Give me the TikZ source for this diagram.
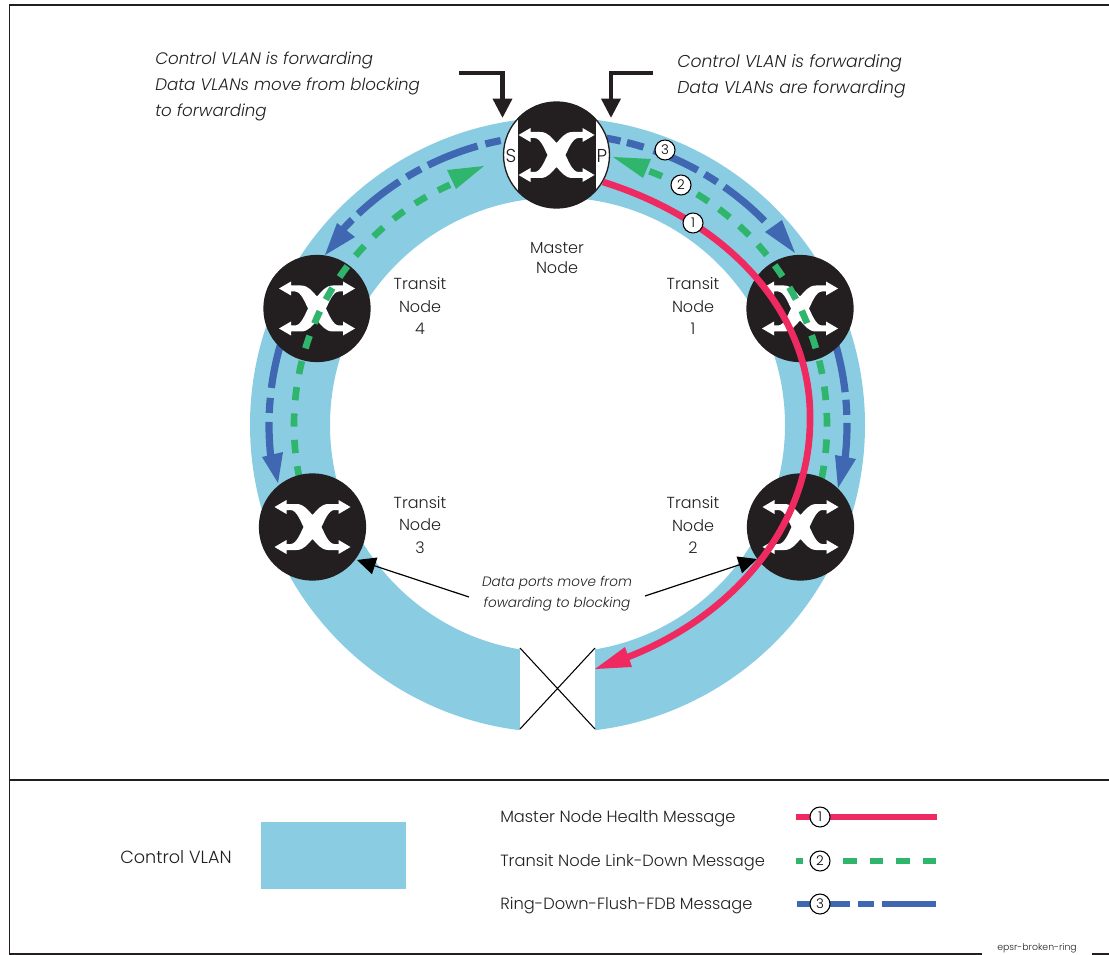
\documentclass[tikz,border=0pt]{standalone}
\usepackage{fontspec}
\setmainfont{Poppins Light}
\usetikzlibrary{arrows.meta}
\definecolor{ringblue}{HTML}{8ACDE3}
\definecolor{nodeblack}{HTML}{231F20}
\definecolor{msgred}{HTML}{EE2A60}
\definecolor{msggreen}{HTML}{2FB56C}
\definecolor{msgblue}{HTML}{3F67B2}
\tikzset{
  x=0.75pt,y=-0.75pt,
  switchnode/.style={circle,fill=nodeblack,minimum size=80.5pt,inner sep=0pt},
  numdot/.style={circle,draw=black,fill=white,line width=0.8pt,minimum size=15pt,inner sep=0pt,font=\fontsize{10}{10}\selectfont},
  lab/.style={font=\fontsize{12}{17}\selectfont,align=center,text=nodeblack},
  masterlab/.style={font=\fontsize{12}{15}\selectfont,align=center,text=nodeblack},
  notes/.style={font=\fontsize{12.9}{19.5}\selectfont\itshape,align=left,text=nodeblack,anchor=west,inner sep=0pt},
  smallnote/.style={font=\fontsize{10.2}{15.5}\selectfont\itshape,align=center,text=nodeblack},
  legendtext/.style={font=\fontsize{12.2}{16}\selectfont,text=nodeblack,anchor=west,inner sep=0pt},
  redline/.style={draw=msgred,line width=5pt},
  greenline/.style={draw=msggreen,line width=5pt},
  blueline/.style={draw=msgblue,line width=5.4pt},
  legendline/.style={line width=4.5pt},
  calloutline/.style={draw=nodeblack,line width=3.3pt,-{Triangle[length=14.5pt,width=14pt]}},
  thinarrow/.style={draw=black,line width=0.9pt,-{Triangle[length=14pt,width=13pt]}},
  frameline/.style={draw=nodeblack,line width=1pt},
  portlab/.style={font=\fontsize{14}{14}\selectfont,text=nodeblack,inner sep=0pt},
}
\newcommand{\icon}[1]{%
  \fill[white,shift={(#1)}] (0,-12) .. controls (4,-16) and (8,-23) .. (16,-23) -- (26,-23) -- (26,-27) -- (38,-20) -- (26,-13) -- (26,-17) -- (22,-17)
    .. controls (16,-17) and (12,-6) .. (9,0) .. controls (12,6) and (16,17) .. (22,17) -- (26,17) -- (26,13) -- (38,20) -- (26,27) -- (26,23) -- (16,23)
    .. controls (8,23) and (4,16) .. (0,12) .. controls (-4,16) and (-8,23) .. (-16,23) -- (-26,23) -- (-26,27) -- (-38,20) -- (-26,13) -- (-26,17) -- (-22,17)
    .. controls (-16,17) and (-12,6) .. (-9,0) .. controls (-12,-6) and (-16,-17) .. (-22,-17) -- (-26,-17) -- (-26,-13) -- (-38,-20) -- (-26,-27) -- (-26,-23) -- (-16,-23)
    .. controls (-8,-23) and (-4,-16) .. (0,-12) -- cycle;}
% #1 style, #2 radius, #3 start angle, #4 end angle (around the ring's centre)
\newcommand{\ringarc}[4]{\draw[#1] plot[domain=#3:#4,samples=25,smooth] ({557+#2*cos(\x)},{425-#2*sin(\x)});}
\begin{document}
\begin{tikzpicture}
\useasboundingbox (0,0) rectangle (1109,955);
% frame
\draw[frameline] (9.5,955) -- (9.5,5) -- (1109,5);
\draw[frameline] (9.5,780) -- (1109,780);
\draw[frameline] (9.5,954) -- (982,954);
\draw[frameline] (1092,954) -- (1109,954);
\node[font=\fontsize{7}{8}\selectfont,text=nodeblack,inner sep=0pt] (tag) at (1037,948.5) {epsr-broken-ring};
% ring (broken)
\fill[ringblue,even odd rule] (557.5,425) circle[radius=307.5] (557.5,425) circle[radius=227.5];
\fill[white] (520,640) rectangle (595,740);
\draw[black,line width=0.8pt] (520,648) -- (595,729) (520,729) -- (595,648);
% blue message, right
\ringarc{blueline}{291}{80.2}{77.4}
\ringarc{blueline}{291}{76.1}{72.7}
\ringarc{blueline}{291}{70.6}{61.1}
\ringarc{blueline}{291}{59.5}{56.6}
\ringarc{blueline}{291}{54.9}{44.5}
\fill[msgblue] (795,253) -- (782,220) -- (765,232) -- cycle;
\ringarc{blueline}{290}{20}{6.5}
\ringarc{blueline}{290}{5}{2}
\ringarc{blueline}{290}{0.4}{-6.5}
\fill[msgblue] (838,488) -- (835,455) -- (856,459) -- cycle;
% blue message, left
\ringarc{blueline}{290}{101.2}{104.3}
\ringarc{blueline}{290}{105.9}{116.4}
\ringarc{blueline}{290}{118}{121.2}
\ringarc{blueline}{290}{122.9}{133.3}
\ringarc{blueline}{290}{134.9}{137.5}
\fill[msgblue] (325,255) -- (337,223) -- (355,237) -- cycle;
\ringarc{blueline}{288}{160}{172.6}
\ringarc{blueline}{288}{174.6}{177.6}
\ringarc{blueline}{288}{179.4}{186.5}
\fill[msgblue] (278,483) -- (262,457) -- (283,452) -- cycle;
% switches under the green line
\node[switchnode] (t1) at (800,308.5) {};
\node[switchnode] (t4) at (317,308.5) {};
\icon{800,308.5}
\icon{317,308.5}
% master node
\node[circle,draw=nodeblack,fill=white,line width=1pt,minimum size=79.5pt,inner sep=0pt] (master) at (556.5,155) {};
\begin{scope}
\clip (556.5,155) circle[radius=53];
\fill[nodeblack] (518,90) rectangle (596,220);
\end{scope}
\icon{556.5,155}
\node[portlab] (portS) at (511,156) {S};
\node[portlab] (portP) at (602,156) {P};
% green message
\foreach \i in {0,...,14}{
  \pgfmathsetmacro{\sa}{70-5.62*\i}\pgfmathsetmacro{\ea}{67.1-5.62*\i}
  \ringarc{greenline}{270}{\sa}{\ea}
}
\fill[msggreen] (613,157) -- (651,159) -- (643,178) -- cycle;
\foreach \i in {0,...,13}{
  \pgfmathsetmacro{\sa}{114+5.77*\i}\pgfmathsetmacro{\ea}{116.9+5.77*\i}
  \ringarc{greenline}{263}{\sa}{\ea}
}
\fill[msggreen] (484,166) -- (447,170) -- (456,189) -- cycle;
% lower switches
\node[switchnode] (t2) at (800.5,527) {};
\node[switchnode] (t3) at (312.5,527) {};
\icon{800.5,527}
\icon{312.5,527}
% red message
\draw[redline] (603,182) .. controls (725,220) and (812,310) .. (810,420) .. controls (810,525) and (735,615) .. (628,657);
\fill[msgred] (595,669) -- (625,647) -- (632,667) -- cycle;
% numbered dots
\node[numdot] (n3) at (665,150) {3};
\node[numdot] (n2) at (681,185) {2};
\node[numdot] (n1) at (693,223) {1};
% callouts
\coordinate (cl) at (459,73);
\coordinate (cr) at (653,73);
\draw[calloutline] (cl) -- (502.5,73) -- (502.5,118);
\draw[calloutline] (cr) -- (611,73) -- (611,118);
\node[notes,font=\fontsize{12.5}{19.7}\selectfont\itshape] (noteL) at (155,86.5) {Control VLAN is forwarding\\Data VLANs move from blocking\\to forwarding};
\node[notes] (noteR) at (677,76) {Control VLAN is forwarding\\Data VLANs are forwarding};
% node labels
\node[masterlab] (mlab) at (557,258) {Master\\Node};
\node[lab] (l1) at (693,306) {Transit\\Node\\1};
\node[lab] (l4) at (420,306) {Transit\\Node\\4};
\node[lab] (l3) at (420,525) {Transit\\Node\\3};
\node[lab] (l2) at (693,525) {Transit\\Node\\2};
% data port note
\node[smallnote] (dp) at (557,594) {Data ports move from\\fowarding to blocking};
\coordinate (dpl) at (469,597);
\coordinate (dpr) at (645,596);
\coordinate (tipl) at (357,560);
\coordinate (tipr) at (757,559);
\draw[thinarrow] (dpl) -- (tipl);
\draw[thinarrow] (dpr) -- (tipr);
% legend
\node[legendtext,font=\fontsize{13.2}{16}\selectfont] (lc) at (120,857) {Control VLAN};
\node[fill=ringblue,minimum width=108.75pt,minimum height=50.25pt,inner sep=0pt] (lbox) at (333.5,855.5) {};
\node[legendtext] (lm1) at (500,819) {Master Node Health Message};
\node[legendtext] (lm2) at (500,863) {Transit Node Link-Down Message};
\node[legendtext] (lm3) at (500,906) {Ring-Down-Flush-FDB Message};
\coordinate (a1) at (796,817);\coordinate (b1) at (937,817);
\coordinate (a2) at (796,861);\coordinate (b2) at (937,861);
\coordinate (a3) at (797,904);\coordinate (b3) at (936,904);
\draw[redline,legendline] (a1) -- (b1);
\draw[greenline,legendline,dash pattern=on 10.1pt off 9.8pt,dash phase=4.5pt] (a2) -- (b2);
\draw[blueline,legendline,dash pattern=on 39.75pt off 6pt on 12pt off 6pt on 41pt off 2pt] (a3) -- (b3);
\node[numdot] (k1) at (820,817) {1};
\node[numdot] (k2) at (820,861) {2};
\node[numdot] (k3) at (820,904) {3};
\end{tikzpicture}
\end{document}
